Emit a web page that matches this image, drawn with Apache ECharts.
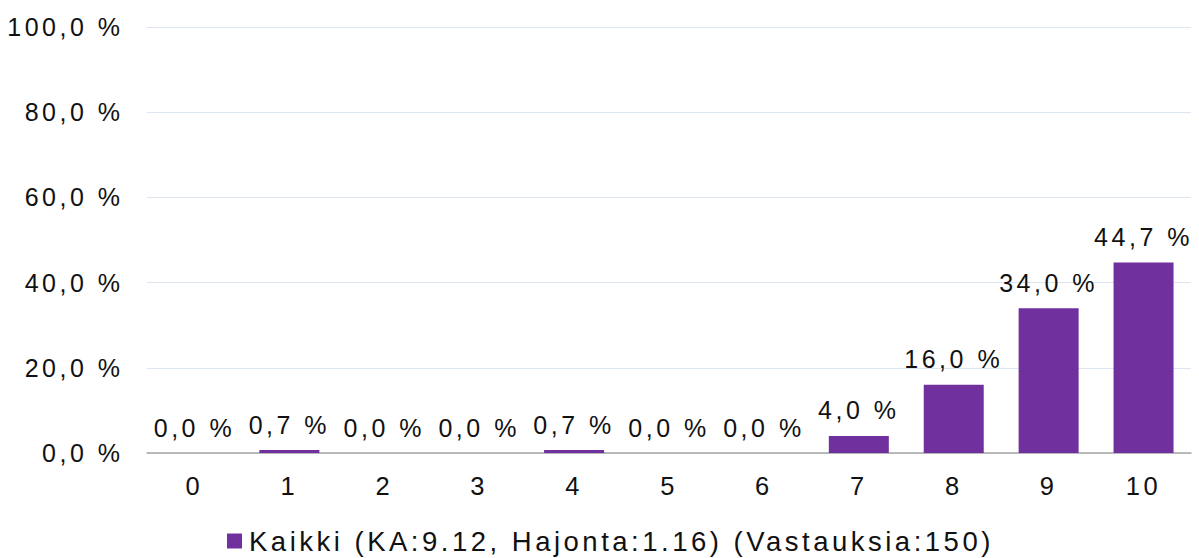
<!DOCTYPE html>
<html>
<head>
<meta charset="utf-8">
<script src="https://cdn.jsdelivr.net/npm/echarts@6/dist/echarts.min.js"></script>
<style>
  html, body { margin: 0; padding: 0; background: #fff; }
  #chart { width: 1199px; height: 558px; }
  #chart text { letter-spacing: 3.5px; }
</style>
</head>
<body>
<div id="chart"></div>
<script>
const categories = ['0', '1', '2', '3', '4', '5', '6', '7', '8', '9', '10'];
const values = [0.0, 0.7, 0.0, 0.0, 0.7, 0.0, 0.0, 4.0, 16.0, 34.0, 44.7];
const seriesName = 'Kaikki (KA:9.12, Hajonta:1.16) (Vastauksia:150)';
const yMin = 0, yMax = 100, yStep = 20;

const fmt = v => v.toFixed(1).replace('.', ',') + ' %';
const FONT = '"Liberation Sans", Arial, sans-serif';
const BAR = '#70309e';

const chart = echarts.init(document.getElementById('chart'), null, { renderer: 'svg' });
chart.setOption({
  animation: false,
  backgroundColor: '#ffffff',
  grid: { left: 147, right: 8, top: 27, bottom: 105, containLabel: false },
  legend: {
    show: true,
    bottom: 3,
    left: 227,
    padding: 0,
    icon: 'rect',
    itemWidth: 15,
    itemHeight: 15,
    itemGap: 10,
    textStyle: { fontFamily: FONT, fontSize: 27.5, color: '#111', padding: [0, 0, 0, 2] },
    data: [seriesName]
  },
  xAxis: {
    type: 'category',
    data: categories,
    axisLine: { show: true, lineStyle: { color: '#a6a6a6', width: 1.5 } },
    axisTick: { show: false },
    axisLabel: { fontFamily: FONT, fontSize: 25.5, color: '#111', margin: 20 },
    splitLine: { show: false }
  },
  yAxis: {
    type: 'value',
    min: yMin, max: yMax, interval: yStep,
    axisLine: { show: false },
    axisTick: { show: false },
    axisLabel: { fontFamily: FONT, fontSize: 25, color: '#111', margin: 23.5, formatter: v => fmt(v) },
    splitLine: { lineStyle: { color: '#dce6f2', width: 1 } }
  },
  series: [{
    name: seriesName,
    type: 'bar',
    data: values,
    barWidth: 60,
    itemStyle: { color: BAR },
    label: {
      show: true,
      position: 'top',
      distance: 13,
      fontFamily: FONT,
      fontSize: 25,
      color: '#111',
      formatter: p => fmt(p.value)
    }
  }]
});
</script>
</body>
</html>
